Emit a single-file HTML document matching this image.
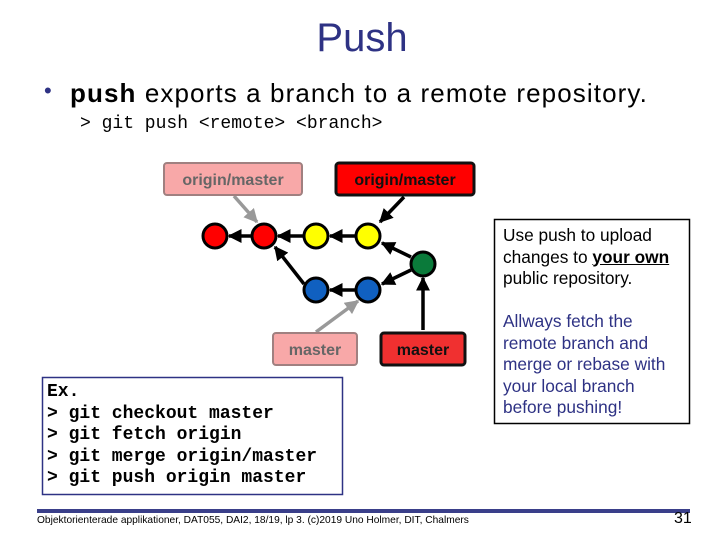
<!DOCTYPE html>
<html><head><style>
body{margin:0;width:720px;height:540px;background:#fff;position:relative;overflow:hidden;font-family:"Liberation Sans",sans-serif}
.a{position:absolute;white-space:nowrap}
.mono{font-family:"Liberation Mono",monospace}
</style></head><body>
<div class="a" style="left:0;width:724px;top:16px;text-align:center;font-size:40px;color:#2e3284">Push</div>
<div class="a" style="left:44px;top:78px;font-size:22px;color:#2e3284">•</div>
<div class="a" style="left:70px;top:78px;font-size:26px;letter-spacing:1.1px;color:#000"><b>push</b> exports a branch to a remote repository.</div>
<div class="a mono" style="left:80px;top:114px;font-size:18px;color:#000">&gt; git push &lt;remote&gt; &lt;branch&gt;</div>
<svg class="a" style="left:0;top:0" width="720" height="540">
<defs>
<marker id="k" viewBox="0 0 10 10" refX="9" refY="5" markerWidth="4" markerHeight="4" orient="auto"><path d="M0,0L10,5L0,10z" fill="#000"/></marker>
<marker id="g" viewBox="0 0 10 10" refX="9" refY="5" markerWidth="4" markerHeight="4" orient="auto"><path d="M0,0L10,5L0,10z" fill="#999"/></marker>
</defs>
<g stroke-width="3.5">
<line x1="252" y1="236" x2="229" y2="236" stroke="#000" marker-end="url(#k)"/>
<line x1="304" y1="236" x2="278" y2="236" stroke="#000" marker-end="url(#k)"/>
<line x1="356" y1="236" x2="330" y2="236" stroke="#000" marker-end="url(#k)"/>
<line x1="304" y1="284" x2="275" y2="247" stroke="#000" marker-end="url(#k)"/>
<line x1="356" y1="290" x2="330" y2="290" stroke="#000" marker-end="url(#k)"/>
<line x1="411" y1="270" x2="382" y2="284" stroke="#000" marker-end="url(#k)"/>
<line x1="411" y1="257" x2="382" y2="243" stroke="#000" marker-end="url(#k)"/>
<line x1="423" y1="330" x2="423" y2="278" stroke="#000" marker-end="url(#k)"/>
<line x1="404" y1="197" x2="380" y2="222" stroke="#000" marker-end="url(#k)"/>
<line x1="234" y1="196" x2="257" y2="222" stroke="#999" marker-end="url(#g)"/>
<line x1="316" y1="332" x2="358" y2="301" stroke="#999" marker-end="url(#g)"/>
</g>
<g stroke="#000" stroke-width="3">
<circle cx="215" cy="236" r="12" fill="#f00"/>
<circle cx="264" cy="236" r="12" fill="#f00"/>
<circle cx="316" cy="236" r="12" fill="#ff0"/>
<circle cx="368" cy="236" r="12" fill="#ff0"/>
<circle cx="423" cy="264" r="12" fill="#0a7a3a"/>
<circle cx="316" cy="290" r="12" fill="#1060c0"/>
<circle cx="368" cy="290" r="12" fill="#1060c0"/>
</g>
<rect x="164" y="163" width="138" height="32" rx="3" fill="#f8a8a8" stroke="#a08080" stroke-width="2"/>
<rect x="336" y="163" width="138" height="32" rx="3" fill="#f00" stroke="#111" stroke-width="3"/>
<rect x="273" y="333" width="84" height="32" rx="3" fill="#f8a8a8" stroke="#a08080" stroke-width="2"/>
<rect x="381" y="333" width="84" height="32" rx="3" fill="#f03030" stroke="#111" stroke-width="3"/>
<g font-family="Liberation Sans,sans-serif" font-size="16" font-weight="bold" text-anchor="middle">
<text x="233" y="185" fill="#666">origin/master</text>
<text x="405" y="185" fill="#111">origin/master</text>
<text x="315" y="355" fill="#666">master</text>
<text x="423" y="355" fill="#111">master</text>
</g>
<rect x="494.5" y="219.5" width="195" height="204" fill="none" stroke="#000" stroke-width="1.5"/>
<rect x="42.5" y="377.5" width="300" height="117" fill="none" stroke="#2e3284" stroke-width="1.5"/>
<rect x="37" y="509" width="653" height="4" fill="#3a3f8a"/>
</svg>
<div class="a" style="left:503px;top:225px;font-size:17.3px;line-height:21.5px;color:#000">Use push to upload<br>changes to <b><u>your own</u></b><br>public repository.</div>
<div class="a" style="left:503px;top:311px;font-size:17.3px;line-height:21.5px;color:#2e3284">Allways fetch the<br>remote branch and<br>merge or rebase with<br>your local branch<br>before pushing!</div>
<div class="a mono" style="left:47px;top:382px;font-size:18px;line-height:21.5px;color:#000;font-weight:bold">Ex.<br>&gt; git  checkout master<br>&gt; git  fetch origin<br>&gt; git  merge origin/master<br>&gt; git  push origin master</div>
<div class="a" style="left:37px;top:515px;font-size:10.2px;color:#000">Objektorienterade applikationer, DAT055, DAI2, 18/19, lp 3. (c)2019 Uno Holmer, DIT, Chalmers</div>
<div class="a" style="left:674px;top:510px;font-size:16px;color:#000">31</div>
</body></html>
